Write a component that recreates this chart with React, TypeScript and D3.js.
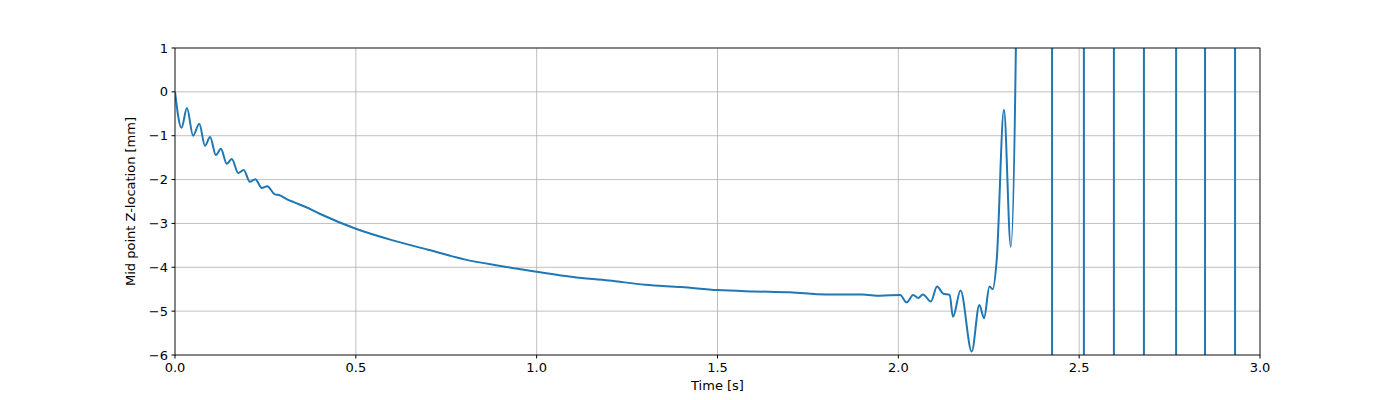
import React, { useRef, useEffect } from 'react';
import * as d3 from 'd3';

// time [s] and mid point z-location [mm]
const times: number[] = [
  0, 0.018, 0.033, 0.05, 0.067, 0.083, 0.097, 0.113, 0.127, 0.143, 0.157, 0.175, 0.19, 0.207, 0.222, 0.24, 0.255,
  0.275, 0.29, 0.31, 0.33, 0.36, 0.4, 0.5, 0.6, 0.7, 0.8, 0.9, 1.0, 1.1, 1.2, 1.3, 1.4, 1.5, 1.6, 1.7, 1.8, 1.9, 1.95,
  2.005, 2.023, 2.041, 2.055, 2.068, 2.09, 2.107, 2.124, 2.142, 2.151, 2.172, 2.203, 2.224, 2.237, 2.252, 2.261,
  2.272, 2.292, 2.311, 2.325, 2.33,
  2.425, 2.4251, 2.513, 2.5131, 2.596, 2.5961, 2.679, 2.6791, 2.768, 2.7681, 2.848, 2.8481, 2.931, 2.9311, 2.95,
];
const zloc: number[] = [
  0, -0.82, -0.37, -1.0, -0.73, -1.23, -1.03, -1.44, -1.3, -1.64, -1.53, -1.85, -1.78, -2.05, -1.99, -2.19, -2.15,
  -2.33, -2.36, -2.45, -2.52, -2.62, -2.78, -3.12, -3.38, -3.6, -3.82, -3.97, -4.1, -4.22, -4.3, -4.4, -4.45, -4.52,
  -4.55, -4.57, -4.62, -4.62, -4.65,
  -4.63, -4.8, -4.63, -4.7, -4.62, -4.78, -4.44, -4.6, -4.63, -5.13, -4.53, -5.92, -4.86, -5.16, -4.44, -4.5,
  -3.83, -0.41, -3.53, 1.03, 40,
  40, -40, -40, 40, 40, -40, -40, 40, 40, -40, -40, 40, 40, -40, -40,
];
const xTicks = [0, 0.5, 1.0, 1.5, 2.0, 2.5, 3.0];
const yTicks = [1, 0, -1, -2, -3, -4, -5, -6];

export default function App() {
  const svgRef = useRef<SVGSVGElement>(null);

  useEffect(() => {
    const svg = d3.select(svgRef.current);
    svg.selectAll('*').remove();
    const width = 1400, height = 400;
    const margin = { top: 48, right: 140, bottom: 45, left: 175 };
    const iw = width - margin.left - margin.right;
    const ih = height - margin.top - margin.bottom;

    const x = d3.scaleLinear().domain([0, 3]).range([0, iw]);
    const y = d3.scaleLinear().domain([-6, 1]).range([ih, 0]);

    svg.append('rect').attr('width', width).attr('height', height).attr('fill', '#fff');
    svg.append('defs').append('clipPath').attr('id', 'plotclip')
      .append('rect').attr('width', iw).attr('height', ih);

    const g = svg.append('g').attr('transform', `translate(${margin.left},${margin.top})`);

    // grid
    g.selectAll('.gx').data(xTicks).enter().append('line')
      .attr('x1', d => x(d)).attr('x2', d => x(d)).attr('y1', 0).attr('y2', ih)
      .attr('stroke', '#b0b0b0').attr('stroke-width', 0.8);
    g.selectAll('.gy').data(yTicks).enter().append('line')
      .attr('y1', d => y(d)).attr('y2', d => y(d)).attr('x1', 0).attr('x2', iw)
      .attr('stroke', '#b0b0b0').attr('stroke-width', 0.8);

    const pts: [number, number][] = times.map((t, i) => [t, zloc[i]]);
    const line = d3.line<[number, number]>()
      .x(d => x(d[0])).y(d => y(d[1]))
      .curve(d3.curveMonotoneX);
    g.append('path').attr('d', line(pts) || '')
      .attr('clip-path', 'url(#plotclip)')
      .attr('fill', 'none').attr('stroke', '#1f77b4').attr('stroke-width', 2);

    // frame
    g.append('rect').attr('width', iw).attr('height', ih)
      .attr('fill', 'none').attr('stroke', '#000').attr('stroke-width', 0.8);

    const font = 'DejaVu Sans, sans-serif';
    const xAxis = g.append('g').attr('transform', `translate(0,${ih})`);
    xTicks.forEach(t => {
      xAxis.append('line').attr('x1', x(t)).attr('x2', x(t)).attr('y1', 0).attr('y2', 3.5).attr('stroke', '#000');
      xAxis.append('text').attr('x', x(t)).attr('y', 17).attr('text-anchor', 'middle')
        .attr('font-family', font).attr('font-size', 13).text(t.toFixed(1));
    });
    const yAxis = g.append('g');
    yTicks.forEach(t => {
      yAxis.append('line').attr('x1', -3.5).attr('x2', 0).attr('y1', y(t)).attr('y2', y(t)).attr('stroke', '#000');
      yAxis.append('text').attr('x', -7).attr('y', y(t)).attr('dy', '0.35em').attr('text-anchor', 'end')
        .attr('font-family', font).attr('font-size', 13).text(t < 0 ? `\u2212${-t}` : `${t}`);
    });

    g.append('text').attr('x', iw / 2).attr('y', ih + 35).attr('text-anchor', 'middle')
      .attr('font-family', font).attr('font-size', 13).text('Time [s]');
    g.append('text').attr('transform', `translate(-40,${ih / 2}) rotate(-90)`).attr('text-anchor', 'middle')
      .attr('font-family', font).attr('font-size', 13).text('Mid point Z-location [mm]');
  }, []);

  return <svg ref={svgRef} width={1400} height={400} style={{ display: 'block', margin: -8 }} />;
}
